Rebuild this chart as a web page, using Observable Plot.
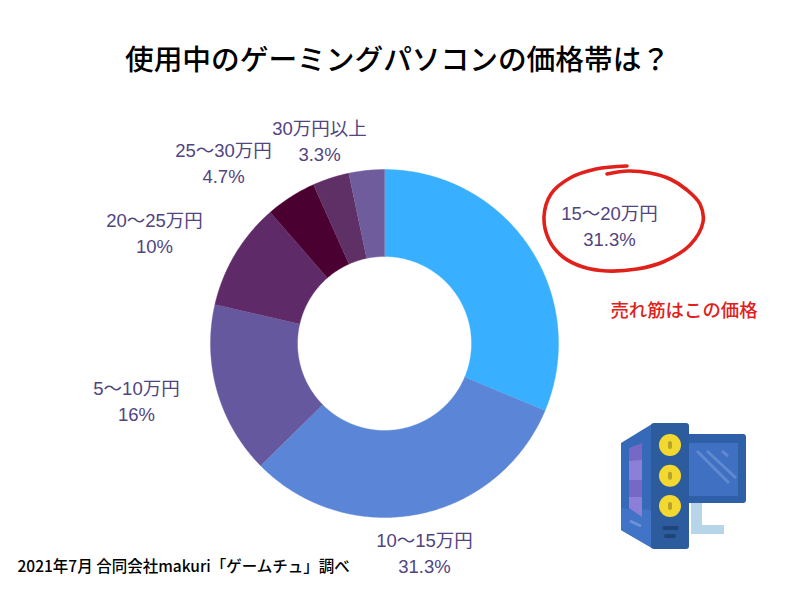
<!DOCTYPE html>
<html><head><meta charset="utf-8">
<style>html,body{margin:0;padding:0;background:#fff}svg{display:block}</style>
<script src="https://cdn.jsdelivr.net/npm/d3@7"></script>
<script src="https://cdn.jsdelivr.net/npm/@observablehq/plot@0.6"></script>
</head><body><div id="chart"></div>
<script>
// Slices, clockwise from 12 o'clock (the sixth slice carries no label in the source)
const categories = ["15〜20万円","10〜15万円","5〜10万円","20〜25万円","25〜30万円","(無記名)","30万円以上"];
const shares     = [31.3,31.3,16,10,4.7,3.4,3.3];
const shareText  = ["31.3%","31.3%","16%","10%","4.7%","","3.3%"];
const sliceColors= ["#38b0ff","#5b85d6","#66589f","#5f2a68","#4b0032","#5f3065","#6f5c9c"];

// Layout for the annotation text
const labelX = [609,424,136,154,223,0,319];
const labelY = [226,553,401,233,163,0,141];

const cx=384, cy=343, R=174, r=87;
const total=d3.sum(shares);
let acc=0;
const ring=[];
categories.forEach((c,i)=>{
  const a0=acc/total*2*Math.PI; acc+=shares[i]; const a1=acc/total*2*Math.PI;
  const n=Math.max(2,Math.ceil((a1-a0)/0.01));
  const outer=d3.range(n+1).map(k=>a0+(a1-a0)*k/n);
  outer.forEach(a=>ring.push({c,x:cx+R*Math.sin(a),y:cy-R*Math.cos(a)}));
  outer.reverse().forEach(a=>ring.push({c,x:cx+r*Math.sin(a),y:cy-r*Math.cos(a)}));
});
const labels=categories.map((c,i)=>({c,t:c+"\n"+shareText[i],x:labelX[i],y:labelY[i]})).filter(d=>d.x>0);

const sans='"Liberation Sans","Noto Sans CJK JP",sans-serif';
const jp='"Noto Sans CJK JP",sans-serif';

function decoration(){
  const svg=d3.create("svg:g");
  // hand-drawn red ring
  const pts=[[627,166],[596,169],[570,178],[551,194],[544,217],[549,240],[563,257],[583,267],[607,271],[637,269],[663,262],[690,245],[703,222],[700,204],[687,190],[670,179],[650,173],[628,171],[607,174]];
  svg.append("path").attr("d",d3.line().curve(d3.curveCatmullRom)(pts))
    .attr("fill","none").attr("stroke","#e0201b").attr("stroke-width",3.6).attr("stroke-linecap","round");
  // PC icon
  const i=svg.append("g");
  const poly=(p,f)=>i.append("polygon").attr("points",p).attr("fill",f);
  const rect=(x,y,w,h,f,rx=0)=>i.append("rect").attr("x",x).attr("y",y).attr("width",w).attr("height",h).attr("fill",f).attr("rx",rx);
  rect(691,503,11,24,"#b7d5e8"); rect(691,525,33,9,"#b7d5e8");
  rect(685,434,61,69,"#2f5fa6",3);
  rect(689,443,49,53,"#3f70c2");
  i.append("path").attr("d","M697 451L729 483M707 451L736 478M722 451L728 456").attr("stroke","#6089d2").attr("stroke-width",3).attr("fill","none");
  poly("621,443 652,424 652,548 621,530","#3669b8");
  poly("621,508 652,510 652,548 621,530","#4174c6");
  poly("629,448 642,443 642,469 629,471","#7668c4");
  poly("629,461 642,460 642,480 629,480","#8b7fd8");
  poly("629,480 642,480 642,497 629,497","#7668c4");
  poly("629,497 642,497 642,517 629,508","#8b7fd8");
  i.append("path").attr("d","M630 521L641 526").attr("stroke","#6b93d6").attr("stroke-width",3);
  rect(651,423,38,126,"#2d5c9e",3);
  [445,475.7,506].forEach(y=>{
    i.append("circle").attr("cx",670).attr("cy",y).attr("r",11).attr("fill","#f3d92f");
    rect(668,y-4,4,8,"#b5a32c",2);
  });
  rect(662.5,526,16,4,"#1f4478",2); rect(664,534,12,4,"#1f4478",2);
  return svg.node();
}

const chart=Plot.plot({
  width:800,height:600,margin:0,
  x:{domain:[0,800],range:[0,800],axis:null},
  y:{domain:[0,600],range:[0,600],axis:null},
  color:{type:"ordinal",domain:categories,range:sliceColors},
  style:{background:"#fff"},
  marks:[
    Plot.line(ring,{x:"x",y:"y",z:"c",fill:"c",stroke:"c",strokeWidth:0.4}),
    Plot.text(labels,{x:"x",y:d=>d.y-2,text:"t",fill:"#51447f",fontSize:18.5,fontFamily:sans,lineHeight:1.4,textAnchor:"middle"}),
    Plot.text(["使用中のゲーミングパソコンの価格帯は？"],{x:()=>397,y:()=>60,fill:"#000",fontSize:28.7,fontFamily:jp,fontWeight:500,textAnchor:"middle"}),
    Plot.text(["売れ筋はこの価格"],{x:()=>683.5,y:()=>311,fill:"#e0201b",fontSize:18.4,fontFamily:jp,fontWeight:500,textAnchor:"middle"}),
    Plot.text(["2021年7月 合同会社makuri「ゲームチュ」調べ"],{x:()=>17,y:()=>567,fill:"#000",fontSize:15.5,fontFamily:jp,fontWeight:500,textAnchor:"start"}),
    decoration
  ]
});
document.getElementById("chart").append(chart);
</script></body></html>
